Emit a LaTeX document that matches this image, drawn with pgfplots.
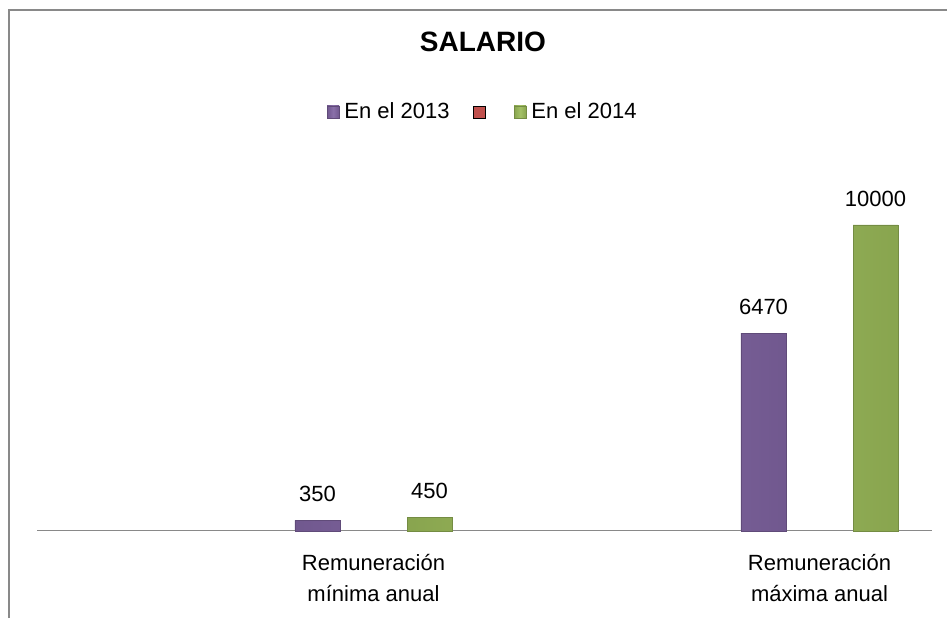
\documentclass[border=0pt]{standalone}
\usepackage{pgfplots}
\pgfplotsset{compat=1.18}
\usepackage{fontspec}
\setmainfont{Liberation Sans}
\definecolor{cpurple}{HTML}{8064A2}
\definecolor{cred}{HTML}{C0504D}
\definecolor{cgreen}{HTML}{9BBB59}
\definecolor{cframe}{HTML}{898989}
\pgfplotsset{
  sqleg/.style={legend image code/.code={\fill[##1] (0pt,-6pt) rectangle (12pt,6pt);}},
}
\begin{document}
\begin{tikzpicture}
\path[use as bounding box] (0,0) rectangle (947pt,618pt);
\begin{axis}[
  at={(37pt,87pt)}, anchor=south west,
  scale only axis, width=895pt, height=306pt,
  xmin=0.2455, xmax=2.2522, ymin=0, ymax=10000,
  axis x line*=bottom, axis y line=none,
  x axis line style={draw=cframe, line width=1pt},
  xtick={1,2},
  xticklabels={{Remuneración\\mínima anual},{Remuneración\\máxima anual}},
  major tick length=0pt,
  xticklabel style={align=center, font=\fontsize{22pt}{31pt}\selectfont, inner sep=0pt, anchor=north, yshift=-23pt},
  ytick=\empty,
  clip=false,
  title={SALARIO},
  title style={at={(0.4983,1.549)}, anchor=base, inner sep=0pt, font=\fontsize{28pt}{32pt}\selectfont\bfseries},
  legend columns=3,
  legend style={at={(0.497,1.370)}, anchor=center, draw=none, fill=none,
    font=\fontsize{22pt}{26pt}\selectfont, inner sep=0pt, nodes={inner sep=0pt},
    /tikz/every odd column/.append style={column sep=5pt},
    /tikz/every even column/.append style={column sep=23pt}},
  legend cell align=left,
  nodes near coords={\pgfmathprintnumber[fixed,precision=0,1000 sep={},assume math mode=true]{\pgfplotspointmeta}},
  nodes near coords style={font=\fontsize{22pt}{26pt}\selectfont, inner sep=0pt, yshift=18pt, text=black},
]
\addplot[ybar, bar width=0.101, bar shift=0pt, draw=cpurple!75!black,
  left color=cpurple!88!black, right color=cpurple!88!black, middle color=cpurple!92!white, sqleg]
  coordinates {(0.8744,350) (1.8744,6470)};
\addlegendentry{En el 2013}
\addlegendimage{fill=cred, sqleg}
\addlegendentry{}
\addplot[ybar, bar width=0.101, bar shift=0pt, draw=cgreen!75!black,
  left color=cgreen!88!black, right color=cgreen!88!black, middle color=cgreen!92!white, sqleg]
  coordinates {(1.1256,450) (2.1256,10000)};
\addlegendentry{En el 2014}
\end{axis}
\draw[cframe, line width=2pt] (9pt,0pt) -- (9pt,608pt) -- (947pt,608pt);
\end{tikzpicture}
\end{document}
